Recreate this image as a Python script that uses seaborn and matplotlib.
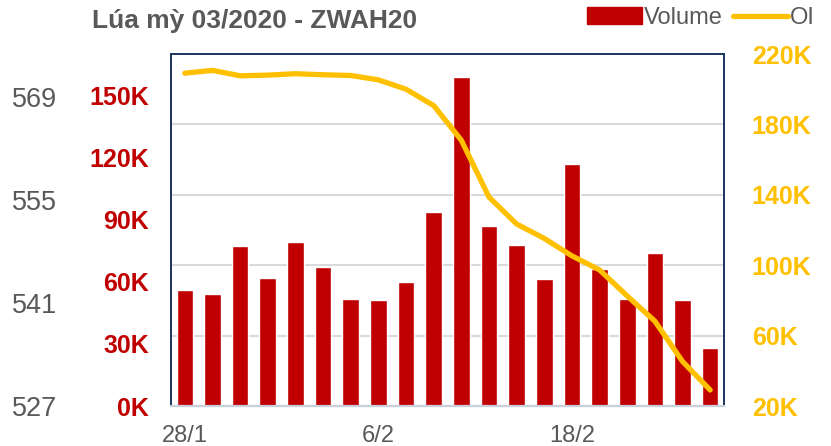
import matplotlib
matplotlib.use("Agg")
import matplotlib.pyplot as plt
from matplotlib.patches import Patch
from matplotlib.lines import Line2D
import seaborn as sns
import pandas as pd

# data
dates = ['28/1', '29/1', '30/1', '31/1', '3/2', '4/2', '5/2', '6/2', '7/2', '10/2',
         '11/2', '12/2', '13/2', '14/2', '18/2', '19/2', '20/2', '21/2', '24/2', '25/2']
volume = [56.1, 53.9, 77.1, 61.6, 79.0, 67.1, 51.6, 51.1, 60.0, 93.9,
          159.0, 87.1, 77.9, 61.4, 117.0, 66.4, 51.9, 73.9, 51.3, 28.2]
oi = [209.1, 210.7, 207.6, 208.0, 208.8, 208.2, 207.8, 205.3, 200.0, 190.7,
      171.0, 138.7, 123.4, 115.2, 105.3, 97.3, 82.5, 68.2, 45.3, 29.1]
shown_dates = ['28/1', '6/2', '18/2']
vol_ticks = [0, 30, 60, 90, 120, 150]
oi_ticks = [20, 60, 100, 140, 180, 220]
price_ticks = [527, 541, 555, 569]

RED = '#C00000'
GOLD = '#FFC000'
GRAY = '#595959'
NAVY = '#1F3864'

sns.set_theme(style='white')
plt.rcParams['font.family'] = ['Liberation Sans', 'DejaVu Sans']

df = pd.DataFrame({'date': dates, 'volume': volume, 'oi': oi, 'pos': range(len(dates))})

fig = plt.figure(figsize=(8.31, 4.46), dpi=100)
ax = fig.add_axes([171 / 831, 1 - 406 / 446, (724 - 171) / 831, (406 - 54) / 446])

vol_lim = (0, 170)
oi_lim = (20, 220)

# gridlines follow the OI axis, drawn under the bars
for v in oi_ticks[1:-1]:
    y = vol_lim[0] + (v - oi_lim[0]) / (oi_lim[1] - oi_lim[0]) * (vol_lim[1] - vol_lim[0])
    ax.axhline(y, color='#D9D9D9', lw=1.5, zorder=0)

sns.barplot(data=df, x='date', y='volume', color=RED, width=0.6, saturation=1,
            ax=ax, zorder=2)
ax.set_ylim(*vol_lim)
ax.set_xlim(-0.5, len(dates) - 0.5)
ax.set_yticks(vol_ticks)
ax.set_yticklabels([f'{v}K' for v in vol_ticks], color=RED, fontweight='bold', fontsize=18)
ax.tick_params(axis='y', length=0, pad=16)
ax.set_xticks([dates.index(d) for d in shown_dates])
ax.set_xticklabels(shown_dates, color=GRAY, fontsize=17)
ax.tick_params(axis='x', length=0, pad=14)
ax.set_xlabel('')
ax.set_ylabel('')

ax2 = ax.twinx()
sns.lineplot(data=df, x='pos', y='oi', color=GOLD, lw=3.8, ax=ax2,
             solid_capstyle='round', solid_joinstyle='round')
ax2.set_ylim(*oi_lim)
ax2.set_yticks(oi_ticks)
ax2.set_yticklabels([f'{v}K' for v in oi_ticks], color=GOLD, fontweight='bold', fontsize=18)
ax2.tick_params(axis='y', length=0, pad=20)
ax2.set_ylabel('')
ax2.set_xlabel('')

# price axis on the far left, labels only
ax3 = ax.twinx()
ax3.yaxis.tick_left()
ax3.set_ylim(527, 574.8)
ax3.set_yticks(price_ticks)
ax3.set_yticklabels([str(v) for v in price_ticks], color=GRAY, fontsize=19.5)
ax3.tick_params(axis='y', length=0, pad=114 * 0.72)

for a in (ax, ax2, ax3):
    for side in ('top', 'left', 'right'):
        a.spines[side].set_color(NAVY)
        a.spines[side].set_linewidth(1.2)
    a.spines['bottom'].set_color('#C9D0DB')
    a.spines['bottom'].set_linewidth(1.5)

fig.text(92 / 831, 1 - 21 / 446, 'Lúa mỳ 03/2020 - ZWAH20', fontsize=19,
         fontweight='bold', color=GRAY, ha='left', va='center')

handles = [Patch(facecolor=RED, edgecolor=RED), Line2D([], [], color=GOLD, lw=3.8)]
fig.legend(handles, ['Volume', 'OI'], ncol=2, loc='center right',
           bbox_to_anchor=(815 / 831, 1 - 18 / 446), frameon=False, fontsize=17,
           handlelength=2.3, handletextpad=0.1, columnspacing=0.45,
           labelcolor=GRAY, borderpad=0, borderaxespad=0)

fig.savefig('out.png', dpi=100)
plt.close(fig)
